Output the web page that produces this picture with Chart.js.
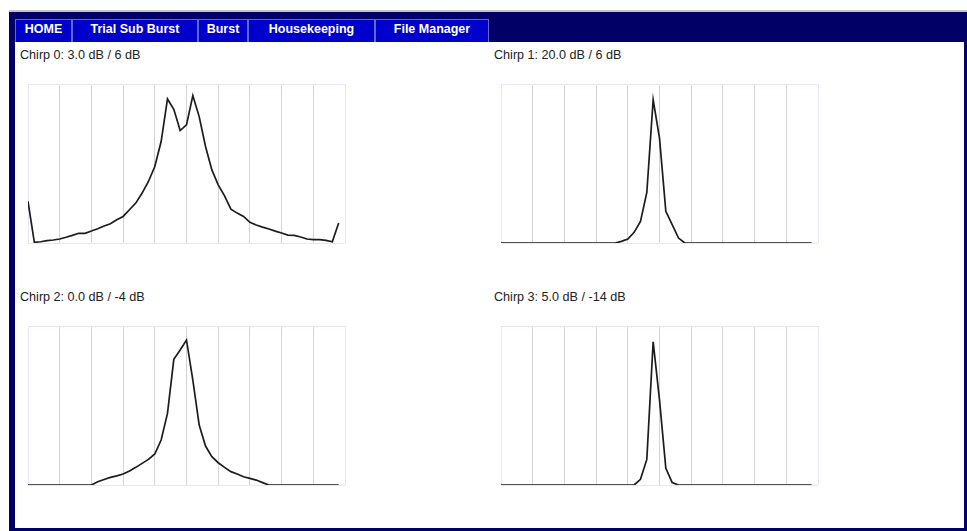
<!DOCTYPE html>
<html>
<head>
<meta charset="utf-8">
<title>Chirp spectra</title>
<script src="https://cdn.jsdelivr.net/npm/chart.js@4/dist/chart.umd.min.js"></script>
<style>
  body { margin: 0; background: #fff; font-family: "Liberation Sans", Arial, sans-serif; }
  #topline { position: absolute; left: 9px; right: 0; top: 10px; height: 2px; background: #c4c4c4; }
  #frame { position: absolute; left: 9px; right: 0; top: 12px; bottom: 0; background: #000066; }
  #content { position: absolute; left: 15px; top: 42px; width: 949px; height: 486px; background: #fff; }
  .navbtn {
    position: absolute; top: 19px; height: 23px; box-sizing: border-box;
    background: #0000cc; border: 1px solid #6666cc; border-bottom: none;
    color: #fff; font-weight: bold; font-size: 12.5px; line-height: 19px; text-align: center;
  }
  .title { position: absolute; font-size: 12.6px; color: #222; white-space: nowrap; }
  .box { position: absolute; width: 327px; height: 169px; }
</style>
</head>
<body>
<div id="topline"></div>
<div id="frame"></div>
<div id="content"></div>
<div class="navbtn" style="left:15px;width:57px">HOME</div>
<div class="navbtn" style="left:72px;width:126px">Trial Sub Burst</div>
<div class="navbtn" style="left:198px;width:50px">Burst</div>
<div class="navbtn" style="left:248px;width:127px">Housekeeping</div>
<div class="navbtn" style="left:375px;width:114px">File Manager</div>

<div class="title" style="left:20px;top:48px">Chirp 0: 3.0 dB / 6 dB</div>
<div class="title" style="left:494px;top:48px">Chirp 1: 20.0 dB / 6 dB</div>
<div class="title" style="left:20px;top:290px">Chirp 2: 0.0 dB / -4 dB</div>
<div class="title" style="left:494px;top:290px">Chirp 3: 5.0 dB / -14 dB</div>

<div class="box" style="left:23px;top:79px"><canvas id="c0"></canvas></div>
<div class="box" style="left:496px;top:79px"><canvas id="c1"></canvas></div>
<div class="box" style="left:23px;top:321px"><canvas id="c2"></canvas></div>
<div class="box" style="left:496px;top:321px"><canvas id="c3"></canvas></div>

<script>
// spectrum bins (x) shared by all four chirps
const bins = [0, 1, 2, 3, 4, 5, 6, 7, 8, 9, 10, 11, 12, 13, 14, 15, 16, 17, 18, 19,
  20, 21, 22, 23, 24, 25, 26, 27, 28, 29, 30, 31, 32, 33, 34, 35, 36, 37, 38, 39,
  40, 41, 42, 43, 44, 45, 46, 47, 48, 49];

// relative magnitude per bin
const chirp0 = [26.2, 0.4, 0.8, 1.5, 1.9, 2.5, 3.6, 4.8, 6.1, 6.1,
  7.5, 9.0, 10.7, 12.1, 14.6, 16.7, 20.9, 25.1, 31.4, 38.7,
  48.1, 63.8, 90.6, 84.1, 70.7, 74.3, 92.7, 79.5, 60.7, 46.0,
  36.6, 29.7, 21.3, 18.8, 16.7, 13.0, 11.3, 10.0, 8.8, 7.5,
  6.3, 5.0, 4.8, 3.8, 2.5, 2.1, 2.1, 1.7, 0.8, 12.6];
const chirp1 = [0, 0, 0, 0, 0, 0, 0, 0, 0, 0,
  0, 0, 0, 0, 0, 0, 0, 0, 0, 1.0,
  2.5, 6.7, 13.6, 31.8, 90.0, 65.9, 19.9, 11.5, 3.1, 0,
  0, 0, 0, 0, 0, 0, 0, 0, 0, 0,
  0, 0, 0, 0, 0, 0, 0, 0, 0, 0];
const chirp2 = [0, 0, 0, 0, 0, 0, 0, 0, 0, 0,
  0, 2.0, 3.5, 4.8, 5.7, 6.9, 8.8, 11.1, 13.6, 16.1,
  19.5, 28.3, 45.0, 79.0, 84.9, 91.2, 66.0, 37.7, 24.5, 17.8,
  14.0, 11.1, 8.4, 6.9, 5.2, 4.2, 3.1, 1.5, 0, 0,
  0, 0, 0, 0, 0, 0, 0, 0, 0, 0];
const chirp3 = [0, 0, 0, 0, 0, 0, 0, 0, 0, 0,
  0, 0, 0, 0, 0, 0, 0, 0, 0, 0,
  0, 0, 3.6, 16.1, 90.1, 53.5, 10.5, 1.5, 0, 0,
  0, 0, 0, 0, 0, 0, 0, 0, 0, 0,
  0, 0, 0, 0, 0, 0, 0, 0, 0, 0];

const xMax = 50;
const yMax = 100;
const frameColor = '#e6e6fa';
const gridColor = '#d4d4d4';

function drawChirp(id, values) {
  return new Chart(document.getElementById(id), {
    type: 'line',
    data: {
      labels: bins,
      datasets: [{
        data: values,
        borderColor: '#1c1c1c',
        borderWidth: 1.7,
        pointRadius: 0,
        fill: false,
        tension: 0
      }]
    },
    options: {
      responsive: true,
      maintainAspectRatio: false,
      animation: false,
      layout: { padding: 5 },
      plugins: { legend: { display: false }, tooltip: { enabled: false } },
      scales: {
        x: {
          type: 'linear', min: 0, max: xMax,
          ticks: { display: false, stepSize: 5 },
          border: { display: false },
          grid: {
            drawTicks: false,
            color: ctx => (ctx.tick && (ctx.tick.value === 0 || ctx.tick.value === xMax)) ? frameColor : gridColor
          }
        },
        y: {
          min: 0, max: yMax,
          ticks: { display: false, stepSize: yMax },
          border: { display: false },
          grid: { drawTicks: false, color: frameColor }
        }
      }
    }
  });
}

drawChirp('c0', chirp0);
drawChirp('c1', chirp1);
drawChirp('c2', chirp2);
drawChirp('c3', chirp3);
</script>
</body>
</html>
